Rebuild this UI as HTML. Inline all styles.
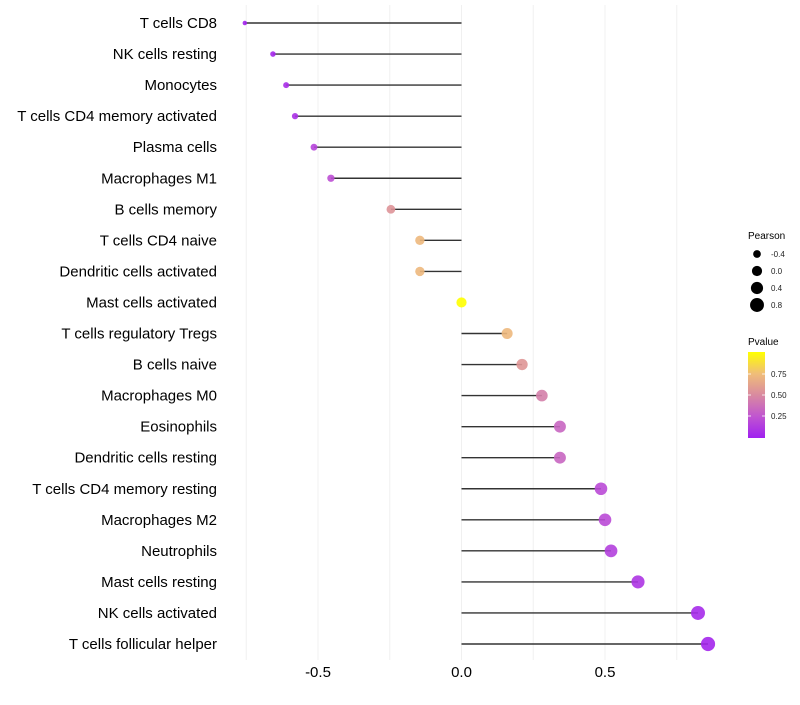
<!DOCTYPE html>
<html><head><meta charset="utf-8"><style>
body{margin:0;background:#fff;font-family:"Liberation Sans",sans-serif;}
svg text{font-family:"Liberation Sans",sans-serif;}
</style></head><body>
<svg id="chart" width="800" height="700" xmlns="http://www.w3.org/2000/svg">
<defs><linearGradient id="pgrad" x1="0" y1="1" x2="0" y2="0">
<stop offset="0" stop-color="#a020f0"/><stop offset="0.25" stop-color="#c055d0"/><stop offset="0.5" stop-color="#d98aa0"/><stop offset="0.75" stop-color="#f0be78"/><stop offset="1" stop-color="#ffff00"/>
</linearGradient></defs>
</svg>
<script>
const categories=["T cells CD8","NK cells resting","Monocytes","T cells CD4 memory activated","Plasma cells","Macrophages M1","B cells memory","T cells CD4 naive","Dendritic cells activated","Mast cells activated","T cells regulatory  Tregs ","B cells naive","Macrophages M0","Eosinophils","Dendritic cells resting","T cells CD4 memory resting","Macrophages M2","Neutrophils","Mast cells resting","NK cells activated","T cells follicular helper"];
const pearson=[-0.755,-0.657,-0.611,-0.58,-0.514,-0.455,-0.246,-0.145,-0.145,0.0,0.159,0.211,0.28,0.343,0.343,0.486,0.5,0.521,0.615,0.824,0.859];
const pvalue=[0.02,0.04,0.06,0.08,0.17,0.22,0.55,0.72,0.72,1.0,0.72,0.56,0.45,0.33,0.33,0.2,0.2,0.15,0.1,0.05,0.03];
const xTicks=[-0.5,0.0,0.5];
const xTickLabels=["-0.5","0.0","0.5"];
const gridVals=[-0.75,-0.5,-0.25,0,0.25,0.5,0.75];
const sizeLegend=[-0.4,0.0,0.4,0.8];
const colorLegend=[0.25,0.5,0.75];

const NS="http://www.w3.org/2000/svg";
const svg=document.getElementById('chart');
const x=v=>461.5+v*287;
const y=i=>23+i*31.05;
const r=v=>Math.sqrt(Math.max(1,26+27.9*v));
const stops=[[0,[160,32,240]],[0.25,[192,85,208]],[0.5,[217,138,160]],[0.75,[240,190,120]],[1,[255,255,0]]];
function col(p){p=Math.max(0,Math.min(1,p));for(let k=1;k<stops.length;k++){if(p<=stops[k][0]){const a=stops[k-1],b=stops[k],t=(p-a[0])/(b[0]-a[0]);const c=a[1].map((u,j)=>Math.round(u+(b[1][j]-u)*t));return `rgb(${c.join(',')})`;}}return 'rgb(255,255,0)';}
function mk(tag,attrs,parent){const e=document.createElementNS(NS,tag);for(const k in attrs)e.setAttribute(k,attrs[k]);(parent||svg).appendChild(e);return e;}

gridVals.forEach(g=>{
  const l=mk('line',{x1:x(g),x2:x(g),y1:5,y2:660,stroke:'#f0f0f0','stroke-width':1});
  
  
});
categories.forEach((c,i)=>{
  const t=mk('text',{x:217,y:y(i)+5,'text-anchor':'end','font-size':15,fill:'#000'});
  t.textContent=c;
  
  
  const l=mk('line',{x1:x(0),x2:x(pearson[i]),y1:y(i),y2:y(i),stroke:'#333','stroke-width':1.4});
  
  
  const p=mk('circle',{cx:x(pearson[i]),cy:y(i),r:r(pearson[i]),fill:col(pvalue[i]),'fill-opacity':0.9});
  
  
});
xTicks.forEach((v,i)=>{
  const t=mk('text',{x:x(v),y:677,'text-anchor':'middle','font-size':15,fill:'#000'});
  t.textContent=xTickLabels[i];
  
  
});
const st=mk('text',{x:748,y:239,'font-size':10,fill:'#000'});st.textContent='Pearson';


sizeLegend.forEach((v,i)=>{
  const cy=254+i*17;
  const c=mk('circle',{cx:757,cy:cy,r:r(v),fill:'#000'});
  
  
  const t=mk('text',{x:771,y:cy+3,'font-size':8,fill:'#222'});t.textContent=v.toFixed(1);
  
  
});
const ct=mk('text',{x:748,y:345,'font-size':10,fill:'#000'});ct.textContent='Pvalue';


const bar=mk('rect',{x:748,y:352,width:17,height:86,fill:'url(#pgrad)'});


colorLegend.forEach(v=>{
  const cy=437-v*84;
  mk('line',{x1:748,x2:751,y1:cy,y2:cy,stroke:'#fff','stroke-width':0.8});
  mk('line',{x1:762,x2:765,y1:cy,y2:cy,stroke:'#fff','stroke-width':0.8});
  const t=mk('text',{x:771,y:cy+3,'font-size':8,fill:'#222'});t.textContent=v.toFixed(2);
  
  
});
</script>
</body></html>
